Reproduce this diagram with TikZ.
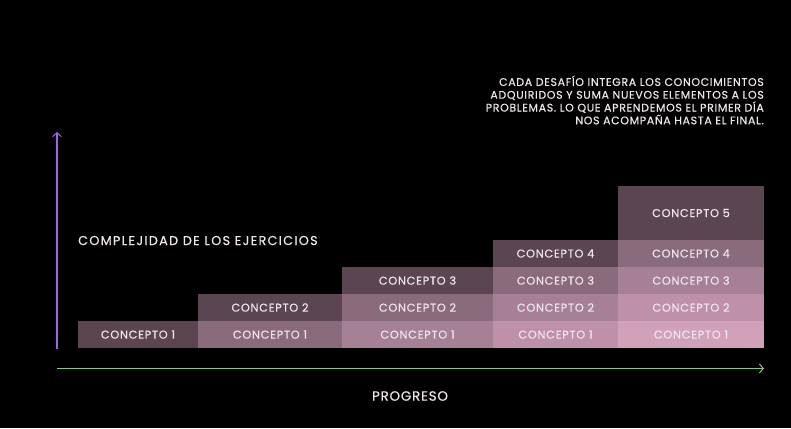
\documentclass[tikz,border=0pt]{standalone}
\usepackage{fontspec}
\usetikzlibrary{arrows.meta}
\newfontfamily\popc[LetterSpace=6.5,FakeBold=0.4]{Poppins}
\newfontfamily\popn[LetterSpace=6,FakeBold=0.4]{Poppins}
\newfontfamily\popt[LetterSpace=10,FakeBold=0.4]{Poppins}
\newfontfamily\popp[LetterSpace=6,FakeBold=0.4]{Poppins}
\definecolor{dz}{HTML}{5B4550}
\definecolor{da}{HTML}{8A6B7B}
\definecolor{db}{HTML}{A68196}
\definecolor{dc}{HTML}{BF91A8}
\definecolor{dd}{HTML}{D0A1B9}
\definecolor{txt}{HTML}{EEE6EC}
\definecolor{purp}{HTML}{A064E8}
\definecolor{grn}{HTML}{84C888}
\begin{document}
\begin{tikzpicture}[x=1pt,y=-1pt,
  cell/.style={anchor=north west,inner sep=0pt,outer sep=0pt,draw=none,text=txt,
    font=\popc\fontsize{11.3}{12}\selectfont},
  note/.style={anchor=base east,inner sep=0pt,text=txt,font=\popn\fontsize{11}{12}\selectfont},
  axisline/.style={line width=1.1pt,-{Straight Barb[length=4pt,width=9pt,line width=1pt]}}]
\fill[black] (0,0) rectangle (791,428);
\useasboundingbox (0,0) rectangle (791,428);
% column 1
\node[cell,fill=dz,minimum width=120pt,minimum height=27pt] (c11) at (78,321) {CONCEPTO 1};
% column 2
\node[cell,fill=da,minimum width=144pt,minimum height=27pt] (c21) at (198,321) {CONCEPTO 1};
\node[cell,fill=dz,minimum width=144pt,minimum height=27pt] (c22) at (198,294) {CONCEPTO 2};
% column 3
\node[cell,fill=db,minimum width=151pt,minimum height=27pt] (c31) at (342,321) {CONCEPTO 1};
\node[cell,fill=da,minimum width=151pt,minimum height=27pt] (c32) at (342,294) {CONCEPTO 2};
\node[cell,fill=dz,minimum width=151pt,minimum height=27pt] (c33) at (342,267) {CONCEPTO 3};
% column 4
\node[cell,fill=dc,minimum width=125pt,minimum height=27pt] (c41) at (493,321) {CONCEPTO 1};
\node[cell,fill=db,minimum width=125pt,minimum height=27pt] (c42) at (493,294) {CONCEPTO 2};
\node[cell,fill=da,minimum width=125pt,minimum height=27pt] (c43) at (493,267) {CONCEPTO 3};
\node[cell,fill=dz,minimum width=125pt,minimum height=27pt] (c44) at (493,240) {CONCEPTO 4};
% column 5
\node[cell,fill=dd,minimum width=146pt,minimum height=27pt] (c51) at (618,321) {CONCEPTO 1};
\node[cell,fill=dc,minimum width=146pt,minimum height=27pt] (c52) at (618,294) {CONCEPTO 2};
\node[cell,fill=db,minimum width=146pt,minimum height=27pt] (c53) at (618,267) {CONCEPTO 3};
\node[cell,fill=da,minimum width=146pt,minimum height=27pt] (c54) at (618,240) {CONCEPTO 4};
\node[cell,fill=dz,minimum width=146pt,minimum height=54pt] (c55) at (618,186) {CONCEPTO 5};
% axes
\coordinate (yo) at (57,349);
\coordinate (yt) at (57,132);
\coordinate (xo) at (57,368.5);
\coordinate (xt) at (764,368.5);
\draw[axisline,purp] (yo) -- (yt);
\draw[axisline,grn] (xo) -- (xt);
% labels
\node[anchor=base west,inner sep=0pt,text=txt,font=\popt\fontsize{12.8}{14}\selectfont] (ylab) at (78,245) {COMPLEJIDAD DE LOS EJERCICIOS};
\node[inner sep=0pt,text=txt,font=\popp\fontsize{13.4}{14}\selectfont] (xlab) at (410,396) {PROGRESO};
\node[note] (n1) at (764,85.9) {CADA DESAFÍO INTEGRA LOS CONOCIMIENTOS};
\node[note] (n2) at (764,98.7) {ADQUIRIDOS Y SUMA NUEVOS ELEMENTOS A LOS};
\node[note] (n3) at (764,111.5) {PROBLEMAS. LO QUE APRENDEMOS EL PRIMER DÍA};
\node[note] (n4) at (764,124.3) {NOS ACOMPAÑA HASTA EL FINAL.};
\end{tikzpicture}
\end{document}
